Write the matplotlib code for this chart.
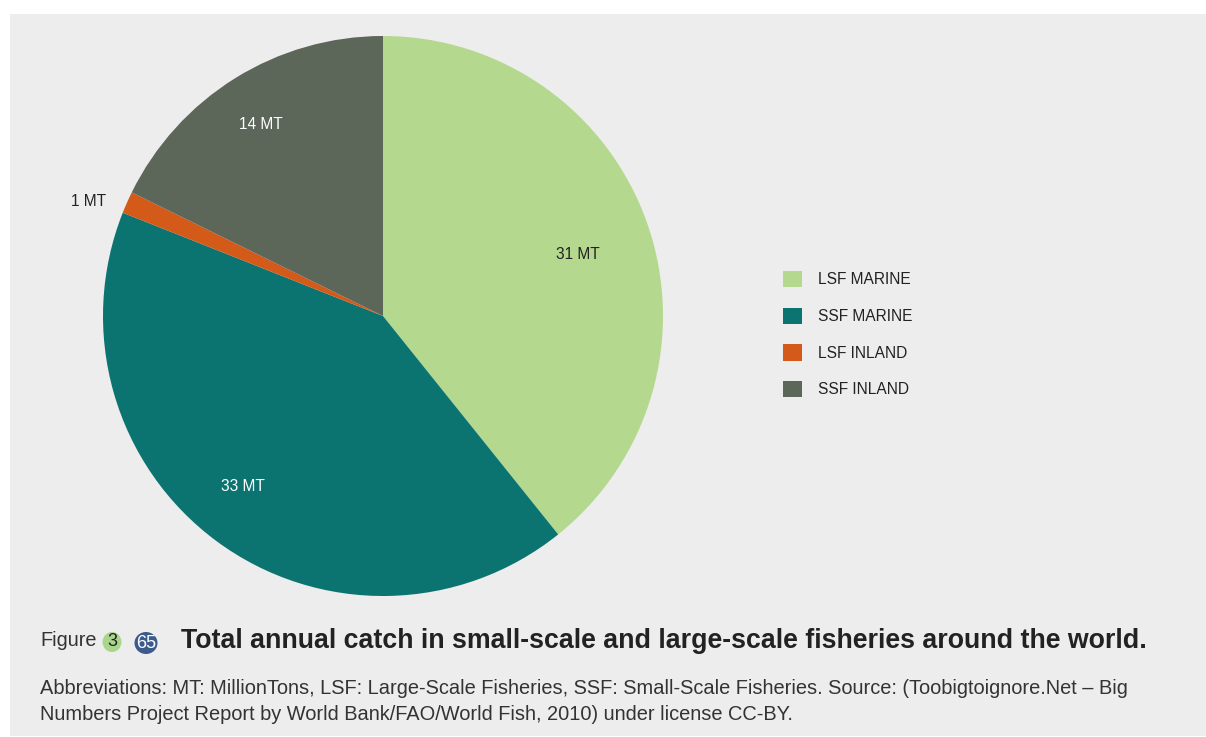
import matplotlib
matplotlib.use("Agg")
import matplotlib.pyplot as plt
from matplotlib.patches import Rectangle, Ellipse
import numpy as np

categories = ["LSF MARINE", "SSF MARINE", "LSF INLAND", "SSF INLAND"]
values = [31, 33, 1, 14]
value_labels = ["31 MT", "33 MT", "1 MT", "14 MT"]
colors = ["#b5d88f", "#0b7471", "#d45a1a", "#5c6659"]
label_colors = ["#222222", "#ffffff", "#222222", "#ffffff"]
label_dist = [0.724, 0.800, 1.123, 0.797]
label_ang_off = [-3.1, -2.1, 3.5, 1.3]

title = "Total annual catch in small-scale and large-scale fisheries around the world."
caption1 = ("Abbreviations: MT: MillionTons, LSF: Large-Scale Fisheries, SSF: Small-Scale Fisheries. "
            "Source: (Toobigtoignore.Net \u2013 Big")
caption2 = "Numbers Project Report by World Bank/FAO/World Fish, 2010) under license CC-BY."

W, H = 1206, 737
plt.rcParams['font.family'] = ['Liberation Sans', 'DejaVu Sans']
fig = plt.figure(figsize=(W / 100, H / 100), dpi=100)
fig.patch.set_facecolor("white")

def fx(x):
    return x / W

def fy(y):
    return 1 - y / H

# panel background
fig.patches.append(Rectangle((fx(10), fy(736)), fx(1206) - fx(10), fy(14) - fy(736),
                             transform=fig.transFigure, facecolor="#ededed",
                             edgecolor="none", zorder=-5))

# pie
cx, cy, r = 383, 316, 280
ax = fig.add_axes([fx(cx - r), fy(cy + r), 2 * r / W, 2 * r / H])
ax.set_facecolor("none")
ax.set_zorder(1)
wedges, _ = ax.pie(values, colors=colors, startangle=90, counterclock=False,
                   wedgeprops=dict(linewidth=0), radius=1)
ax.set_xlim(-1, 1)
ax.set_ylim(-1, 1)
ax.set_aspect("equal")
ax.axis("off")

for w, lab, col, d, off in zip(wedges, value_labels, label_colors, label_dist, label_ang_off):
    ang = np.deg2rad((w.theta1 + w.theta2) / 2 + off)
    ax.text(d * np.cos(ang), d * np.sin(ang), lab, ha="center", va="baseline",
            fontsize=11.2, color=col, clip_on=False)

# legend
fs = 11.2
leg = fig.legend(wedges, categories, loc="upper left",
                 bbox_to_anchor=(fx(783), fy(271)), frameon=False,
                 fontsize=fs, handlelength=1.22, handleheight=1.22,
                 handletextpad=1.05, labelspacing=1.31, borderpad=0,
                 borderaxespad=0)
for t in leg.get_texts():
    t.set_color("#222222")

# caption
fig.text(fx(40), fy(641), "Figure", fontsize=14.3, color="#333333", va="center", ha="left")
fig.patches.append(Ellipse((fx(112), fy(642)), 19 / W, 20 / H, transform=fig.transFigure,
                           facecolor="#a9d68c", edgecolor="none", zorder=2))
fig.text(fx(112), fy(642), "3", fontsize=13, color="#222222", va="center", ha="center", zorder=3)
fig.patches.append(Ellipse((fx(146), fy(643)), 23 / W, 22 / H, transform=fig.transFigure,
                           facecolor="#3c5a8c", edgecolor="none", zorder=2))
fig.text(fx(146), fy(643), "65", fontsize=13, color="white", va="center", ha="center", zorder=3)
fig.text(fx(181), fy(641), title, fontsize=19.27, fontweight="bold", color="#222222",
         va="center", ha="left")
fig.text(fx(40), fy(688), caption1, fontsize=14.45, color="#333333", va="center", ha="left")
fig.text(fx(40), fy(714), caption2, fontsize=14.45, color="#333333", va="center", ha="left")

fig.savefig("out.png", dpi=100)
